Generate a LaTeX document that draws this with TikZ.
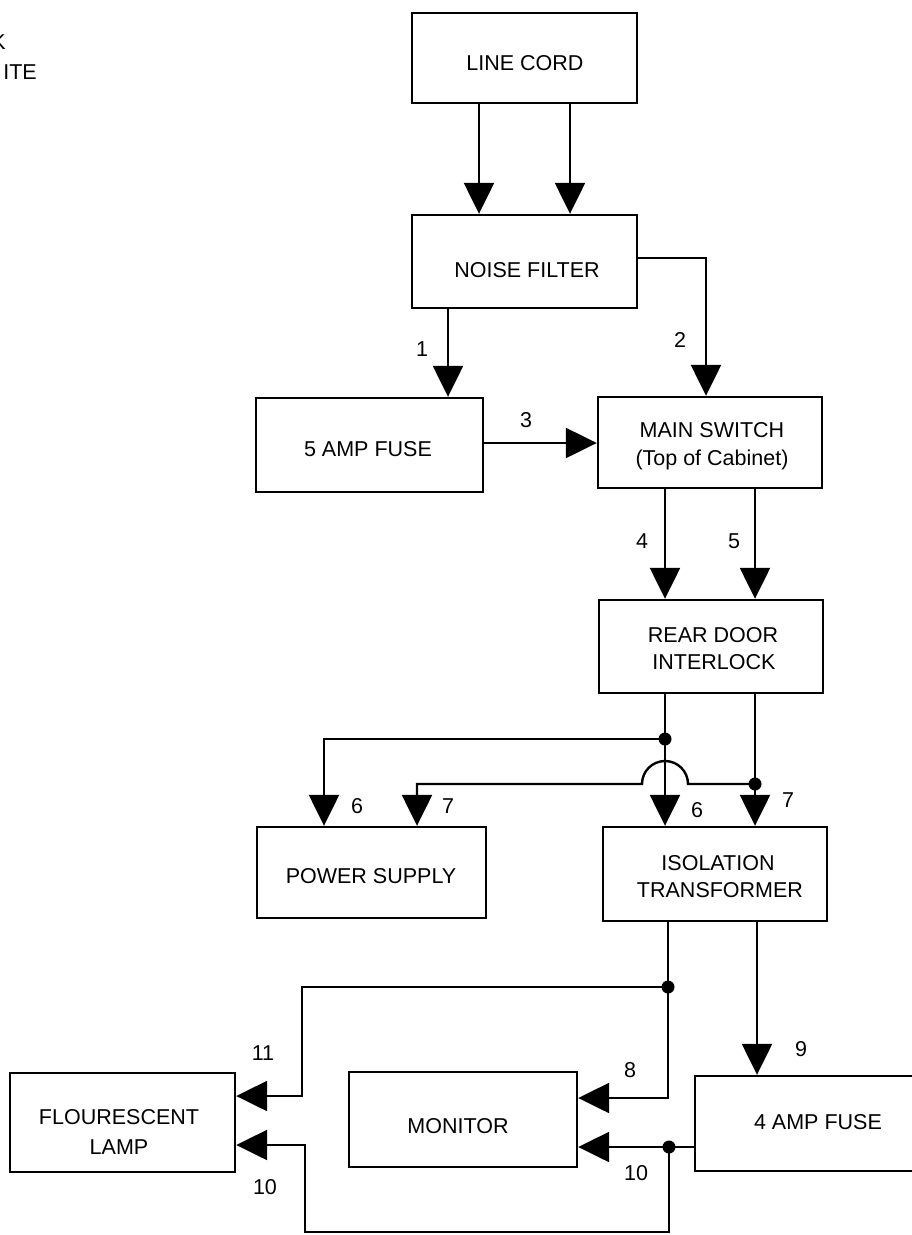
\documentclass[tikz,border=0pt]{standalone}
\usepackage{fontspec}
\setmainfont{Liberation Sans}
\usetikzlibrary{arrows.meta}
\begin{document}
\begin{tikzpicture}[x=1pt,y=-1pt,
  box/.style={draw,line width=2.4pt,inner sep=0pt},
  txt/.style={font=\fontsize{21.5}{26}\selectfont,anchor=base,inner sep=0pt},
  wire/.style={line width=2.4pt},
  arr/.style={wire,-{Triangle[width=30pt,length=31pt]}},
  jdot/.style={circle,fill,inner sep=0pt,minimum size=13pt}]
\useasboundingbox (0,0) rectangle (912,1235);
\clip (0,0) rectangle (912,1235);
% boxes
\node[box,minimum width=225pt,minimum height=90pt] (lc) at (524.5,58) {};
\node[box,minimum width=225pt,minimum height=93pt] (nf) at (524.5,261.5) {};
\node[box,minimum width=227pt,minimum height=94pt] (f5) at (369.5,445) {};
\node[box,minimum width=224pt,minimum height=91pt] (ms) at (710,442.5) {};
\node[box,minimum width=224pt,minimum height=93pt] (rd) at (711,646.5) {};
\node[box,minimum width=229pt,minimum height=91pt] (ps) at (371.5,872.5) {};
\node[box,minimum width=224pt,minimum height=94pt] (it) at (715,874) {};
\node[box,minimum width=225pt,minimum height=99pt] (lamp) at (122.5,1122.5) {};
\node[box,minimum width=228pt,minimum height=95pt] (mon) at (463,1119.5) {};
\node[box,minimum width=246pt,minimum height=95pt] (f4) at (818,1123.5) {};
% box texts
\node[txt] (tlc) at (525,70) {LINE CORD};
\node[txt] (tnf) at (527,277) {NOISE FILTER};
\node[txt] (tf5) at (368,456) {5 AMP FUSE};
\node[txt] (tms1) at (712,437) {MAIN SWITCH};
\node[txt] (tms2) at (712,465) {(Top of Cabinet)};
\node[txt] (trd1) at (713,642) {REAR DOOR};
\node[txt] (trd2) at (714,669) {INTERLOCK};
\node[txt] (tps) at (371,883) {POWER SUPPLY};
\node[txt] (tit1) at (718,870) {ISOLATION};
\node[txt] (tit2) at (720,897) {TRANSFORMER};
\node[txt] (tl1) at (119,1124) {FLOURESCENT};
\node[txt] (tl2) at (119,1154) {LAMP};
\node[txt] (tmo) at (458,1133) {MONITOR};
\node[txt] (tf4) at (818,1129) {4 AMP FUSE};
\node[txt,anchor=base east] (tk) at (6,49) {K};
\node[txt,anchor=base east] (tw) at (37,79) {ITE};
% column coordinates
\coordinate (x1) at (448,0);
\coordinate (x2) at (706,258);
\coordinate (y3) at (0,443);
\coordinate (cA) at (665,0);
\coordinate (cB) at (755,0);
\coordinate (x6) at (324,0);
\coordinate (x7) at (417,0);
\coordinate (cC) at (668,0);
\coordinate (cD) at (757,0);
% junction dots
\node[jdot] (j6) at (665,739) {};
\node[jdot] (j7) at (755,784) {};
\node[jdot] (j8) at (668,987) {};
\node[jdot] (j10) at (669,1147) {};
\coordinate (h7) at (665,784);
\coordinate (k11) at (302,1096);
\coordinate (k8) at (668,1098);
\coordinate (k10a) at (669,1232);
\coordinate (k10b) at (305,1232);
\coordinate (k10c) at (305,1145);
% connectors
\draw[arr] ([xshift=-45.5pt]lc.south) -- ([xshift=-45.5pt]nf.north);
\draw[arr] ([xshift=45.5pt]lc.south) -- ([xshift=45.5pt]nf.north);
\draw[arr] (nf.south -| x1) -- (f5.north -| x1);
\draw[arr] (nf.east |- x2) -| (ms.north -| x2);
\draw[arr] (f5.east |- y3) -- (ms.west |- y3);
\draw[arr] (ms.south -| cA) -- (rd.north -| cA);
\draw[arr] (ms.south -| cB) -- (rd.north -| cB);
\draw[wire] (rd.south -| cA) -- (j6.center);
\draw[arr] (j6.center) -| (ps.north -| x6);
\draw[arr] (j6.center) -- (it.north -| cA);
\draw[wire] (rd.south -| cB) -- (j7.center);
\draw[arr] (j7.center) -- (it.north -| cB);
\draw[arr] (j7.center) -- ([xshift=23pt]h7) arc[start angle=0,end angle=180,radius=23pt] -- (h7 -| x7) -- (ps.north -| x7);
\draw[wire] (it.south -| cC) -- (j8.center);
\draw[arr] (j8.center) -| (k11) -- (k11 -| lamp.east);
\draw[arr] (j8.center) -- (k8) -- (k8 -| mon.east);
\draw[arr] (it.south -| cD) -- (f4.north -| cD);
\draw[arr] (f4.west |- j10) -- (mon.east |- j10);
\draw[arr] (j10.center) -- (k10a) -- (k10b) -- (k10c) -- (k10c -| lamp.east);
% wire numbers
\node[txt] (n1) at (422,356) {1};
\node[txt] (n2) at (680,347) {2};
\node[txt] (n3) at (526,427) {3};
\node[txt] (n4) at (642,548) {4};
\node[txt] (n5) at (734,548) {5};
\node[txt] (n6a) at (357,813) {6};
\node[txt] (n7a) at (448,813) {7};
\node[txt] (n6b) at (697,817) {6};
\node[txt] (n7b) at (788,807) {7};
\node[txt] (n9) at (801,1056) {9};
\node[txt] (n8) at (630,1077) {8};
\node[txt] (n10a) at (636,1180) {10};
\node[txt] (n11) at (263,1060) {11};
\node[txt] (n10b) at (265,1194) {10};
\end{tikzpicture}
\end{document}
